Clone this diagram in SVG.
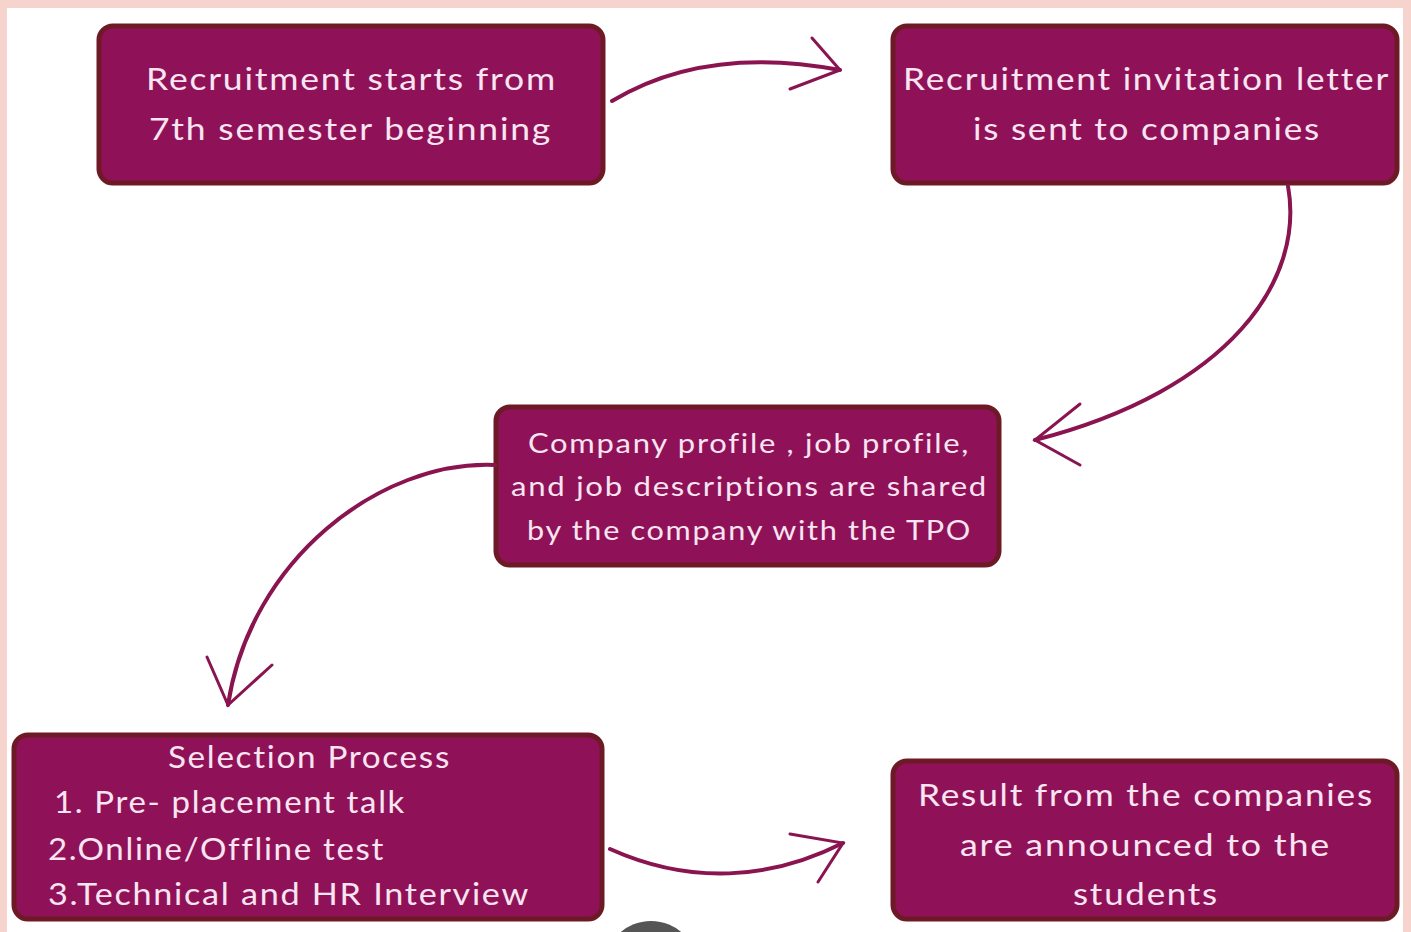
<svg xmlns="http://www.w3.org/2000/svg" width="1411" height="932" viewBox="0 0 1411 932">
<style>
.box{fill:#8f1258;stroke:#6e1a26;stroke-width:5}
.t{font-family:"Lato","Open Sans",sans-serif;fill:#f9e4f1;font-size:30px;letter-spacing:1.5px}
.t2{font-size:27px}
.c{fill:none;stroke:#8a1450;stroke-width:4;stroke-linecap:round}
.h{fill:none;stroke:#8a1450;stroke-width:3;stroke-linecap:round}
</style>
<rect width="1411" height="932" fill="#f6d3cd"/>
<rect x="7" y="8" width="1396" height="924" fill="#ffffff"/>
<g id="node1">
<rect class="box" x="99" y="26" width="504" height="157" rx="14"/>
<text class="t" x="146" y="90" textLength="411" lengthAdjust="spacingAndGlyphs">Recruitment starts from</text>
<text class="t" x="149" y="140" textLength="403" lengthAdjust="spacingAndGlyphs">7th semester beginning</text>
</g>
<g id="node2">
<rect class="box" x="893" y="26" width="504" height="157" rx="14"/>
<text class="t" x="903" y="90" textLength="487" lengthAdjust="spacingAndGlyphs">Recruitment invitation letter</text>
<text class="t" x="973" y="140" textLength="348" lengthAdjust="spacingAndGlyphs">is sent to companies</text>
</g>
<g id="node3">
<rect class="box" x="496" y="407" width="503" height="158" rx="14"/>
<text class="t t2" x="528" y="453" textLength="442" lengthAdjust="spacingAndGlyphs">Company profile , job profile,</text>
<text class="t t2" x="511" y="496" textLength="477" lengthAdjust="spacingAndGlyphs">and job descriptions are shared</text>
<text class="t t2" x="527" y="540" textLength="445" lengthAdjust="spacingAndGlyphs">by the company with the TPO</text>
</g>
<g id="node4">
<rect class="box" x="14" y="735" width="588" height="184" rx="14"/>
<text class="t" x="168" y="768" textLength="283" lengthAdjust="spacingAndGlyphs">Selection Process</text>
<text class="t" x="54" y="813" textLength="352" lengthAdjust="spacingAndGlyphs">1. Pre- placement talk</text>
<text class="t" x="48" y="860" textLength="337" lengthAdjust="spacingAndGlyphs">2.Online/Offline test</text>
<text class="t" x="48" y="905" textLength="482" lengthAdjust="spacingAndGlyphs">3.Technical and HR Interview</text>
</g>
<g id="node5">
<rect class="box" x="893" y="761" width="504" height="158" rx="14"/>
<text class="t" x="918" y="806" textLength="456" lengthAdjust="spacingAndGlyphs">Result from the companies</text>
<text class="t" x="960" y="856" textLength="371" lengthAdjust="spacingAndGlyphs">are announced to the</text>
<text class="t" x="1073" y="905" textLength="146" lengthAdjust="spacingAndGlyphs">students</text>
</g>
<g id="connectors">
<path class="c" d="M612,101 C680,60 760,55 840,70"/>
<path class="h" d="M812,38 L840,70 M790,89 L840,70"/>
<path class="c" d="M1288,186 C1305,280 1230,390 1035,440"/>
<path class="h" d="M1080,404 L1035,440 L1080,465"/>
<path class="c" d="M495,465 C380,460 250,560 228,705"/>
<path class="h" d="M207,657 L228,705 L272,665"/>
<path class="c" d="M610,849 C690,885 770,880 843,843"/>
<path class="h" d="M790,834 L843,843 L818,882"/>
</g>
<circle cx="651" cy="968" r="47" fill="#555555"/>
</svg>
